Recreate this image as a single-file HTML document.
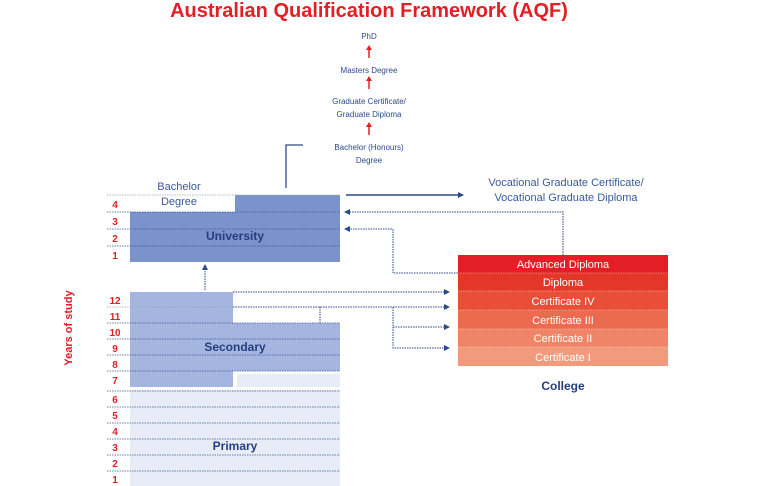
<!DOCTYPE html>
<html><head><meta charset="utf-8"><style>
html,body{margin:0;padding:0;background:#fff;width:768px;height:486px;overflow:hidden}
text{font-family:"Liberation Sans",sans-serif}
</style></head><body>
<svg width="768" height="486" viewBox="0 0 768 486" xmlns="http://www.w3.org/2000/svg">
<defs>
<marker id="ab" markerWidth="6" markerHeight="6" refX="5" refY="3" orient="auto" markerUnits="userSpaceOnUse"><path d="M0,0 L6,3 L0,6 z" fill="#2b4a8a"/></marker>
</defs>
<text x="369" y="17" text-anchor="middle" font-size="20" font-weight="bold" fill="#e31e24">Australian Qualification Framework (AQF)</text>
<g font-size="8" fill="#2b4a8a" text-anchor="middle">
<text x="369" y="39">PhD</text>
<text x="369" y="73">Masters Degree</text>
<text x="369" y="104">Graduate Certificate/</text>
<text x="369" y="117">Graduate Diploma</text>
<text x="369" y="150">Bachelor (Honours)</text>
<text x="369" y="163">Degree</text>
</g>
<g stroke="#e31e24" stroke-width="1.5">
<line x1="369" y1="58" x2="369" y2="49"/><path d="M366,50 L369,45 L372,50z" fill="#e31e24" stroke="none"/>
<line x1="369" y1="89" x2="369" y2="80"/><path d="M366,81 L369,76 L372,81z" fill="#e31e24" stroke="none"/>
<line x1="369" y1="135" x2="369" y2="126"/><path d="M366,127 L369,122 L372,127z" fill="#e31e24" stroke="none"/>
</g>
<polyline points="286,188 286,145 303,145" fill="none" stroke="#2b4a8a" stroke-width="1.3"/>
<rect x="235" y="195" width="105" height="17" fill="#7b93cb"/>
<rect x="130" y="212" width="210" height="50" fill="#7b93cb"/>
<rect x="130" y="292" width="103" height="31" fill="#a4b5e0"/>
<rect x="130" y="323" width="210" height="48" fill="#a4b5e0"/>
<rect x="130" y="371" width="103" height="16" fill="#a4b5e0"/>
<rect x="237" y="374" width="103" height="13" fill="#e8ecf7"/>
<rect x="130" y="390" width="210" height="96" fill="#e8ecf7"/>
<g stroke="#3a5a9a" stroke-width="0.7" stroke-dasharray="1.5,1">
<line x1="107" y1="195" x2="340" y2="195" stroke="#9ab"/>
<line x1="107" y1="212" x2="340" y2="212"/>
<line x1="107" y1="229" x2="340" y2="229"/>
<line x1="107" y1="246" x2="340" y2="246"/>
<line x1="107" y1="307" x2="233" y2="307" stroke="#9ab"/>
<line x1="107" y1="323" x2="340" y2="323"/>
<line x1="107" y1="339" x2="340" y2="339"/>
<line x1="107" y1="355" x2="340" y2="355"/>
<line x1="107" y1="371" x2="340" y2="371"/>
<line x1="107" y1="391" x2="340" y2="391"/>
<line x1="107" y1="407" x2="340" y2="407"/>
<line x1="107" y1="423" x2="340" y2="423"/>
<line x1="107" y1="439" x2="340" y2="439"/>
<line x1="107" y1="455" x2="340" y2="455"/>
<line x1="107" y1="471" x2="340" y2="471"/>
</g>
<g font-size="10" font-weight="bold" fill="#e31e24" text-anchor="middle">
<text x="115" y="208">4</text><text x="115" y="225">3</text><text x="115" y="242">2</text><text x="115" y="259">1</text>
<text x="115" y="304">12</text><text x="115" y="320">11</text><text x="115" y="336">10</text><text x="115" y="352">9</text><text x="115" y="368">8</text><text x="115" y="384">7</text>
<text x="115" y="403">6</text><text x="115" y="419">5</text><text x="115" y="435">4</text><text x="115" y="451">3</text><text x="115" y="467">2</text><text x="115" y="483">1</text>
</g>
<text x="72" y="328" transform="rotate(-90 72 328)" text-anchor="middle" font-size="11" font-weight="bold" fill="#e31e24">Years of study</text>
<text x="179" y="190" text-anchor="middle" font-size="11" fill="#3a5a9a">Bachelor</text>
<text x="179" y="205" text-anchor="middle" font-size="11" fill="#3a5a9a">Degree</text>
<g font-size="12" font-weight="bold" fill="#243f80" text-anchor="middle">
<text x="235" y="240">University</text>
<text x="235" y="351">Secondary</text>
<text x="235" y="450">Primary</text>
<text x="563" y="390">College</text>
</g>
<line x1="346" y1="195" x2="463" y2="195" stroke="#2b4a8a" stroke-width="1.5" marker-end="url(#ab)"/>
<text x="566" y="186" text-anchor="middle" font-size="11" fill="#3a5a9a">Vocational Graduate Certificate/</text>
<text x="566" y="201" text-anchor="middle" font-size="11" fill="#3a5a9a">Vocational Graduate Diploma</text>
<g fill="none" stroke="#2b4a8a" stroke-width="1" stroke-dasharray="1.5,1">
<polyline points="563,255 563,212 345,212" marker-end="url(#ab)"/>
<polyline points="458,273 393,273 393,229 345,229" marker-end="url(#ab)"/>
<polyline points="205,290 205,265" marker-end="url(#ab)"/>
<polyline points="233,292 449,292" marker-end="url(#ab)"/>
<polyline points="233,307 449,307" marker-end="url(#ab)"/>
<polyline points="320,323 320,307"/>
<polyline points="393,307 393,327 449,327" marker-end="url(#ab)"/>
<polyline points="393,327 393,348 449,348" marker-end="url(#ab)"/>
</g>
<rect x="458" y="255" width="210" height="18" fill="#e31e24"/>
<rect x="458" y="273" width="210" height="18" fill="#e5362a"/>
<rect x="458" y="291" width="210" height="19" fill="#e94f38"/>
<rect x="458" y="310" width="210" height="19" fill="#ec6a50"/>
<rect x="458" y="329" width="210" height="18" fill="#ef8466"/>
<rect x="458" y="347" width="210" height="19" fill="#f29a7c"/>
<g stroke="#fff" stroke-width="0.6" stroke-dasharray="1.5,1" opacity="0.7">
<line x1="458" y1="273" x2="668" y2="273"/><line x1="458" y1="291" x2="668" y2="291"/><line x1="458" y1="310" x2="668" y2="310"/><line x1="458" y1="329" x2="668" y2="329"/><line x1="458" y1="347" x2="668" y2="347"/>
</g>
<g font-size="11" fill="#fff" text-anchor="middle">
<text x="563" y="268">Advanced Diploma</text>
<text x="563" y="286">Diploma</text>
<text x="563" y="305">Certificate IV</text>
<text x="563" y="324">Certificate III</text>
<text x="563" y="342">Certificate II</text>
<text x="563" y="361">Certificate I</text>
</g>
</svg>
</body></html>
